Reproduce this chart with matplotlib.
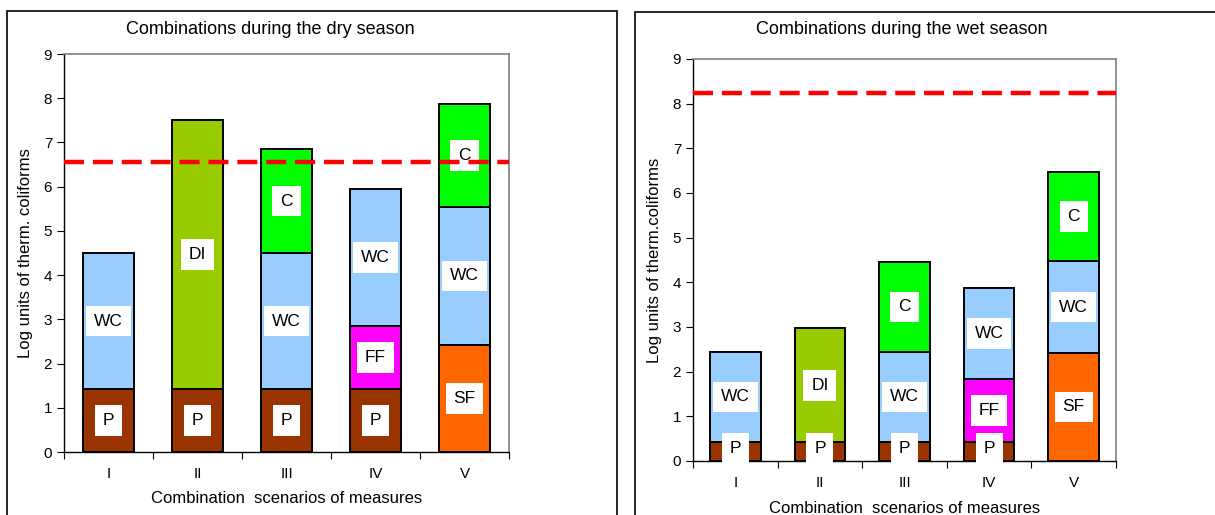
#!/usr/bin/env python3
# -*- coding: utf-8 -*-
import matplotlib
matplotlib.use('Agg')
import matplotlib.pyplot as plt
from matplotlib.patches import Rectangle

plt.rcParams['font.family'] = ['Liberation Sans', 'DejaVu Sans']

scenarios = ['I', 'II', 'III', 'IV', 'V']

# segments per scenario: (measure, height), stacked from bottom
dry_segments = [
    [('P', 1.42), ('WC', 3.08)],
    [('P', 1.42), ('DI', 6.08)],
    [('P', 1.42), ('WC', 3.08), ('C', 2.35)],
    [('P', 1.42), ('FF', 1.43), ('WC', 3.10)],
    [('SF', 2.43), ('WC', 3.10), ('C', 2.34)],
]
wet_segments = [
    [('P', 0.42), ('WC', 2.03)],
    [('P', 0.42), ('DI', 2.55)],
    [('P', 0.42), ('WC', 2.03), ('C', 2.00)],
    [('P', 0.42), ('FF', 1.41), ('WC', 2.05)],
    [('SF', 2.42), ('WC', 2.05), ('C', 2.00)],
]
dry_limit = 6.55
wet_limit = 8.25

colors = {'P': '#993300', 'WC': '#99CCFF', 'DI': '#99CC00',
          'C': '#00FF00', 'FF': '#FF00FF', 'SF': '#FF6600'}

W, H = 1215, 515
fig = plt.figure(figsize=(W / 100, H / 100), dpi=100)

# outer chart frames
fig.patches.append(Rectangle((7/W, -0.01), 610/W, 1 - 11/H + 0.01,
                             transform=fig.transFigure, fill=False, lw=1.2, ec='black'))
fig.patches.append(Rectangle((635/W, -0.01), 590/W, 1 - 12/H + 0.01,
                             transform=fig.transFigure, fill=False, lw=1.2, ec='black'))


def draw(ax, segments, limit, ylabel, width, xpad):
    x = list(range(len(scenarios)))
    for i, segs in enumerate(segments):
        bottom = 0
        for name, h in segs:
            ax.bar(x[i], h, bottom=bottom, width=width, color=colors[name],
                   edgecolor='black', linewidth=1.4, zorder=2)
            mid = bottom + h / 2
            if mid < 0.28:
                mid = 0.28
            ax.text(x[i], mid, name, ha='center', va='center', fontsize=12.5,
                    zorder=4, bbox=dict(facecolor='white', edgecolor='none',
                                        boxstyle='square,pad=0.45'))
            bottom += h
    ax.axhline(limit, color='#FF0000', lw=3.2, dashes=(4.5, 2), zorder=5,
               clip_on=False)
    ax.set_xlim(-0.5, len(scenarios) - 0.5)
    ax.set_ylim(0, 9)
    ax.set_yticks(range(10))
    ax.set_xticks([i - 0.5 for i in range(len(scenarios) + 1)])
    ax.set_xticklabels([])
    ax.set_xticks(x, minor=True)
    ax.set_xticklabels(scenarios, minor=True, fontsize=11)
    ax.tick_params(axis='x', which='major', length=5, direction='out')
    ax.tick_params(axis='x', which='minor', length=0, pad=11)
    ax.tick_params(axis='y', length=5, direction='out', labelsize=11)
    for s in ['top', 'right']:
        ax.spines[s].set_color('#808080')
        ax.spines[s].set_linewidth(1.2)
    for s in ['left', 'bottom']:
        ax.spines[s].set_linewidth(1.0)
    ax.set_ylabel(ylabel, fontsize=12, labelpad=8)
    ax.set_xlabel('Combination  scenarios of measures', fontsize=12, labelpad=xpad)


ax1 = fig.add_axes([64/W, 63/H, 445/W, 398/H])
draw(ax1, dry_segments, dry_limit, 'Log units of therm. coliforms', 0.58, 7)
fig.text(270/W, 1 - 29/H, 'Combinations during the dry season',
         ha='center', va='center', fontsize=13)

ax2 = fig.add_axes([693/W, 54/H, 423/W, 402/H])
draw(ax2, wet_segments, wet_limit, 'Log units of therm.coliforms', 0.6, 8)
fig.text(902/W, 1 - 29/H, 'Combinations during the wet season',
         ha='center', va='center', fontsize=13)

plt.savefig('out.png', dpi=100)
